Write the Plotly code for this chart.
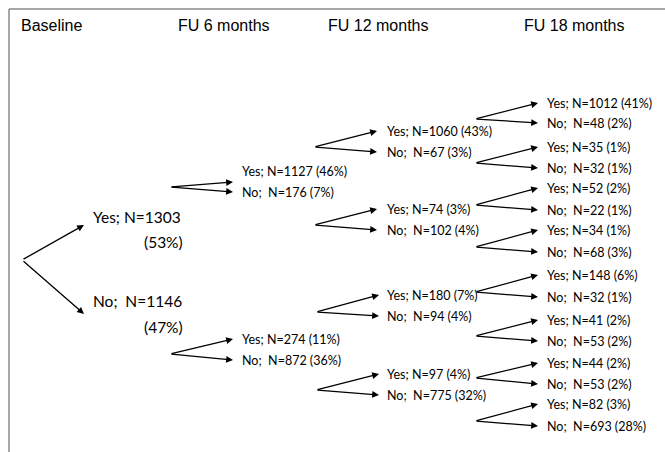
import plotly.graph_objects as go

# ---------------- data ----------------
headers = ["Baseline", "FU 6 months", "FU 12 months", "FU 18 months"]
answers = ["Yes", "No"]

baseline_n = [1303, 1146]
baseline_pct = [53, 47]
fu6_n = [1127, 176, 274, 872]
fu6_pct = [46, 7, 11, 36]
fu12_n = [1060, 67, 74, 102, 180, 94, 97, 775]
fu12_pct = [43, 3, 3, 4, 7, 4, 4, 32]
fu18_n = [1012, 48, 35, 32, 52, 22, 34, 68, 148, 32, 41, 53, 44, 53, 82, 693]
fu18_pct = [41, 2, 1, 1, 2, 1, 1, 3, 6, 1, 2, 2, 2, 2, 3, 28]

# ---------------- layout (pixel space of the canvas) ----------------
W, H = 665, 452
header_x = [19, 176, 326, 522]
header_y = 25

root_xy = (22, 260)
l1 = dict(tip_x=84, label_x=91, pct_x=142,
          label_y=[217, 301], pct_y=[242, 327], tip_y=[225, 314])
l2 = dict(fork_x=[170, 170], fork_y=[187, 354], tip_x=233, label_x=240,
          label_y=[171, 192, 339, 360], tip_y=[182, 192, 339, 360])
l3 = dict(fork_x=[314, 314, 316, 316], fork_y=[147, 225, 312, 390],
          tip_x=[377, 377, 379, 379], label_x=385,
          label_y=[131, 152, 209, 230, 295, 316, 374, 395])
l4 = dict(fork_x=475, fork_y=[119, 163, 205, 247, 292, 336, 378, 421],
          tip_x=538, label_x=545,
          label_y=[103, 123, 147, 168, 188, 210, 230, 252,
                   275, 297, 320, 341, 363, 384, 404, 426])

LABEL_FONT = "Lato"
HEAD_FONT = "Liberation Sans"
NBSP = "\u00a0"


def node_text(i, n, pct=None):
    a = answers[i % 2]
    sep = "; " if a == "Yes" else ";" + NBSP + " "
    s = f"{a}{sep}N={n}"
    if pct is not None:
        s += f" ({pct}%)"
    return s


def arrow(x0, y0, x1, y1):
    return dict(x=x1, y=y1, ax=x0, ay=y0, xref="x", yref="y",
                axref="x", ayref="y", text="", showarrow=True,
                arrowhead=2, arrowsize=1.05, arrowwidth=1.3,
                arrowcolor="black", standoff=0, startstandoff=0)


def label(x, y, text, size):
    return dict(x=x, y=y, xref="x", yref="y", text=text, showarrow=False,
                xanchor="left", yanchor="middle",
                font=dict(family=LABEL_FONT, size=size, color="black"))


ann = []
# headers
for hx, ht in zip(header_x, headers):
    ann.append(dict(x=hx, y=header_y, xref="x", yref="y", text=ht,
                    showarrow=False, xanchor="left", yanchor="middle",
                    font=dict(family=HEAD_FONT, size=16, color="black")))

# level 1 (baseline)
for i in range(2):
    ann.append(arrow(root_xy[0], root_xy[1], l1["tip_x"], l1["tip_y"][i]))
    ann.append(label(l1["label_x"], l1["label_y"][i], node_text(i, baseline_n[i]), 15.5))
    ann.append(label(l1["pct_x"], l1["pct_y"][i], f"({baseline_pct[i]}%)", 15.5))

# level 2
for p in range(2):
    for c in range(2):
        k = 2 * p + c
        ann.append(arrow(l2["fork_x"][p], l2["fork_y"][p], l2["tip_x"], l2["tip_y"][k]))
        ann.append(label(l2["label_x"], l2["label_y"][k], node_text(k, fu6_n[k], fu6_pct[k]), 12.5))

# level 3
for p in range(4):
    for c in range(2):
        k = 2 * p + c
        ann.append(arrow(l3["fork_x"][p], l3["fork_y"][p], l3["tip_x"][p], l3["label_y"][k]))
        ann.append(label(l3["label_x"], l3["label_y"][k], node_text(k, fu12_n[k], fu12_pct[k]), 12.5))

# level 4
for p in range(8):
    for c in range(2):
        k = 2 * p + c
        ann.append(arrow(l4["fork_x"], l4["fork_y"][p], l4["tip_x"], l4["label_y"][k]))
        ann.append(label(l4["label_x"], l4["label_y"][k], node_text(k, fu18_n[k], fu18_pct[k]), 12.5))

frame = [
    dict(type="line", xref="x", yref="y", x0=9, y0=9, x1=9, y1=H, line=dict(color="#8a8a8a", width=1.5)),
    dict(type="line", xref="x", yref="y", x0=9, y0=9, x1=W, y1=9, line=dict(color="#8a8a8a", width=1.5)),
]

fig = go.Figure()
fig.update_layout(
    width=W, height=H, autosize=False,
    margin=dict(l=0, r=0, t=0, b=0),
    paper_bgcolor="white", plot_bgcolor="white",
    xaxis=dict(range=[0, W], visible=False, fixedrange=True),
    yaxis=dict(range=[H, 0], visible=False, fixedrange=True),
    annotations=ann, shapes=frame, showlegend=False,
)
fig.write_html("out.html", config={"displayModeBar": False},
               post_script="document.body.style.margin='0';")
